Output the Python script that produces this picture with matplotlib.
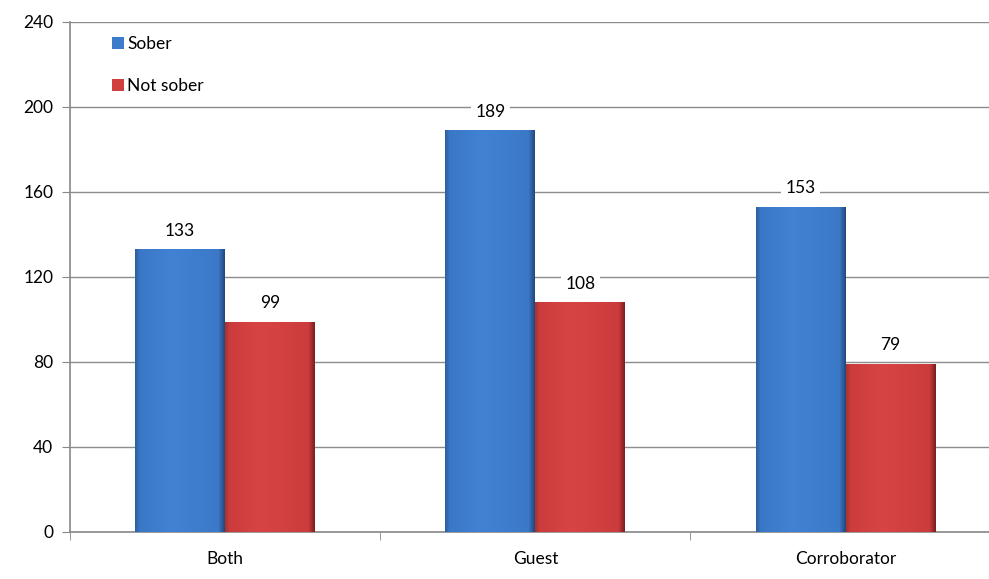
import numpy as np
import matplotlib.pyplot as plt
from matplotlib.colors import LinearSegmentedColormap

categories = ["Both", "Guest", "Corroborator"]
sober = [133, 189, 153]
not_sober = [99, 108, 79]

plt.rcParams["font.family"] = ["Lato", "DejaVu Sans"]

fig = plt.figure(figsize=(9.89, 5.79), dpi=100)
ax = fig.add_axes([0.0708, 0.0812, 0.941, 0.881])

x = np.arange(len(categories))
w = 0.29
b1 = ax.bar(x - w / 2, sober, w, color="#3d7ccb", edgecolor="none",
            label="Sober", zorder=3)
b2 = ax.bar(x + w / 2, not_sober, w, color="#d13e3e", edgecolor="none",
            label="Not sober", zorder=3)

# subtle edge shading like the office chart bevel
blue_cm = LinearSegmentedColormap.from_list(
    "b", [(0, "#2d5f9f"), (0.05, "#3a78c6"), (0.4, "#4282d3"), (0.93, "#3b79c8"), (1, "#23497c")])
red_cm = LinearSegmentedColormap.from_list(
    "r", [(0, "#a83232"), (0.05, "#cc3c3c"), (0.4, "#d84444"), (0.93, "#cc3c3c"), (1, "#7e1f1f")])
grad = np.linspace(0, 1, 128).reshape(1, -1)
for bars, cm in ((b1, blue_cm), (b2, red_cm)):
    for r in bars:
        x0, x1 = r.get_x(), r.get_x() + r.get_width()
        im = ax.imshow(grad, cmap=cm, aspect="auto", extent=(x0, x1, 0, r.get_height()),
                       zorder=3.1)
        im.set_clip_path(r)

for bars in (b1, b2):
    for r in bars:
        ax.text(r.get_x() + r.get_width() / 2, r.get_height() + 5, f"{int(r.get_height())}",
                ha="center", va="bottom", fontsize=12.5,
                bbox=dict(facecolor="white", edgecolor="none", pad=3), zorder=4)

ax.set_ylim(0, 240)
ax.set_yticks(range(0, 241, 40))
ax.set_xlim(-0.5, len(categories) - 0.5)
ax.set_xticks(x)
ax.set_xticklabels(categories, fontsize=12.5)
ax.set_xticks(np.arange(-0.5, len(categories), 1), minor=True)
ax.tick_params(axis="x", which="major", length=0, pad=14)
ax.tick_params(axis="x", which="minor", length=6, color="#888888")
ax.tick_params(axis="y", length=6, color="#888888", labelsize=12.5, pad=6)
ax.grid(axis="y", color="#8c8c8c", linewidth=1, zorder=0)
for s in ("top", "right"):
    ax.spines[s].set_visible(False)
for s in ("left", "bottom"):
    ax.spines[s].set_color("#888888")
    ax.spines[s].set_linewidth(1.2)

ax.legend(loc="upper left", bbox_to_anchor=(0.03, 1.0), frameon=True, facecolor="white",
          edgecolor="none", framealpha=1, fontsize=12.5, handlelength=0.7, handleheight=0.7,
          handletextpad=0.2, labelspacing=1.5, borderpad=0.3)

fig.savefig("out.png", dpi=100)
